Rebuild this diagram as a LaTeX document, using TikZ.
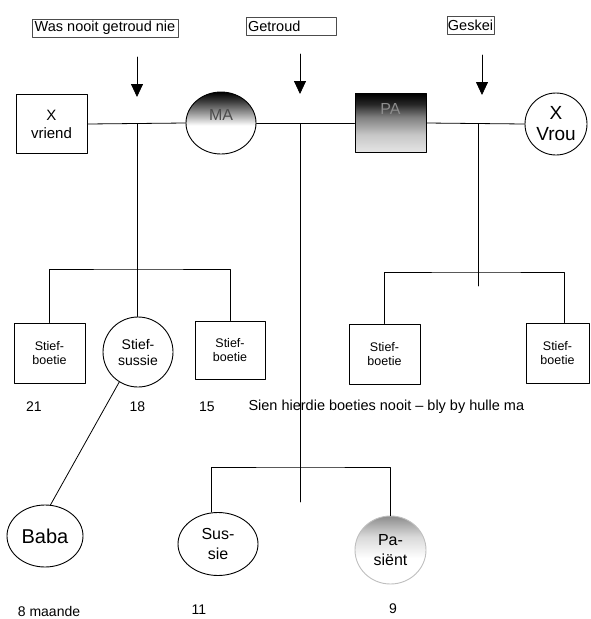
\documentclass[tikz,border=0pt]{standalone}
\usepackage{fontspec}
\setmainfont{Liberation Sans}
\usetikzlibrary{shapes.geometric,arrows.meta}

% shadings for MA, PA and the patient
\pgfdeclareverticalshading{madonker}{100bp}{color(0bp)=(white); color(48bp)=(white);
  color(58bp)=(black!40); color(68bp)=(black!78); color(75bp)=(black); color(100bp)=(black)}
\pgfdeclareverticalshading{padonker}{100bp}{color(0bp)=(black!10); color(25bp)=(black!10);
  color(40bp)=(black!22); color(55bp)=(black!50); color(66bp)=(black!85); color(75bp)=(black); color(100bp)=(black)}
\pgfdeclareverticalshading{pasligte}{100bp}{color(0bp)=(white); color(44bp)=(white);
  color(60bp)=(black!15); color(75bp)=(black!45); color(100bp)=(black!45)}

\tikzset{
  lbl/.style={draw=black!70, line width=0.6pt, inner sep=1pt, minimum height=18pt,
    font=\fontsize{14.5}{16}\selectfont},
  manbox/.style={draw, line width=0.9pt, inner sep=0pt, minimum width=71pt,
    minimum height=59pt, align=center},
  vrou/.style={draw, ellipse, line width=0.9pt, inner sep=0pt, align=center},
  lyn/.style={line width=0.8pt},
  pyl/.style={line width=0.8pt, -{Triangle[width=12pt,length=13pt]}},
  ouderdom/.style={font=\fontsize{14}{16}\selectfont}
}

\begin{document}
\begin{tikzpicture}[x=1pt,y=-1pt,line cap=round,line join=round]
\useasboundingbox (0,0) rectangle (590,619);

% --- labels above the marriages ---
\node[lbl, minimum width=146pt] (nooit) at (105,28) {Was nooit getroud nie};
\node[lbl, text width=86pt, inner xsep=2pt, align=left] (getroud) at (291,26) {Getroud};
\node[lbl] (geskei) at (470.5,25) {Geskei};

\coordinate (p1a) at (137,57);  \coordinate (p1b) at (137,97);
\coordinate (p2a) at (300,54);  \coordinate (p2b) at (300,94);
\coordinate (p3a) at (482,55);  \coordinate (p3b) at (482,95);
\draw[pyl] (p1a) -- (p1b);
\draw[pyl] (p2a) -- (p2b);
\draw[pyl] (p3a) -- (p3b);

% --- parents ---
\node[manbox, font=\fontsize{15}{18}\selectfont] (vriend) at (51.5,124) {X\\vriend};
\node[vrou, minimum width=70pt, minimum height=62pt, shading=madonker,
  text=black!70, font=\fontsize{16}{18}\selectfont, text height=11.5pt, text depth=16.5pt] (ma) at (221,123) {MA};
\node[manbox, shading=padonker, text=black!45, font=\fontsize{16}{18}\selectfont,
  text height=11.5pt, text depth=28pt] (pa) at (390.5,123) {PA};
\node[vrou, minimum width=62pt, minimum height=62pt, font=\fontsize{19}{21}\selectfont] (xvrou) at (556,124) {X\\Vrou};

\draw[lyn] (vriend.east) -- (ma.west);
\draw[lyn] (ma.east) -- (pa.west);
\draw[lyn] (pa.east) -- (xvrou.west);

\coordinate (j1) at (137,124);
\coordinate (j2) at (300,124);
\coordinate (j3) at (478,124);

% --- stepchildren ---
\node[manbox, minimum height=60pt, font=\fontsize{12.5}{14.5}\selectfont] (boet1) at (49.5,353) {Stief-\\boetie};
\node[vrou, minimum width=70pt, minimum height=70pt, font=\fontsize{14}{16}\selectfont] (stiefsussie) at (138,352) {Stief-\\sussie};
\node[manbox, minimum width=70pt, minimum height=58pt, font=\fontsize{12.5}{14.5}\selectfont] (boet2) at (230,350) {Stief-\\boetie};
\node[manbox, minimum height=60pt, font=\fontsize{12.5}{14.5}\selectfont] (boet3) at (384.5,354) {Stief-\\boetie};
\node[manbox, minimum width=63pt, minimum height=60pt, font=\fontsize{12.5}{14.5}\selectfont] (boet4) at (557.5,353) {Stief-\\boetie};

\coordinate (k1) at (137,269);
\coordinate (k3) at (478,272);
\coordinate (stub3) at (478,286);
\draw[lyn] (j1) -- (j1 |- stiefsussie.north);
\draw[lyn] (boet1.north) |- (k1) -| (boet2.north);
\draw[lyn] (j3) -- (stub3);
\draw[lyn] (boet3.north) |- (k3) -| ([xshift=6.5pt]boet4.north);

% ages of the stepchildren
\node[ouderdom] (o21) at (34,407) {21};
\node[ouderdom] (o18) at (137.5,407) {18};
\node[ouderdom] (o15) at (207,407) {15};
\node[anchor=west, font=\fontsize{14.5}{16}\selectfont] (nota) at (245,407) {Sien hierdie boeties nooit – bly by hulle ma};

% --- children of MA and PA ---
\node[vrou, minimum width=76pt, minimum height=62pt, font=\fontsize{20}{22}\selectfont] (baba) at (45,536) {Baba};
\node[vrou, minimum width=80pt, minimum height=63pt, font=\fontsize{16}{20}\selectfont] (sus) at (218,544) {Sus-\\sie};
\node[vrou, draw=black!25, minimum width=71pt, minimum height=68pt, shading=pasligte,
  font=\fontsize{16}{20}\selectfont] (pas) at (390.5,550) {Pa-\\siënt};

\coordinate (k2) at (300,467);
\coordinate (stub2) at (300,502);
\draw[lyn] (j2) -- (stub2);
\draw[lyn] ([xshift=-7pt]sus.north) |- (k2) -| (pas.north);
\draw[lyn] (stiefsussie.238) -- (baba.80);

\node[ouderdom] (o8) at (49,611) {8 maande};
\node[ouderdom] (o11) at (199,610) {11};
\node[ouderdom] (o9) at (393,609) {9};
\end{tikzpicture}
\end{document}
